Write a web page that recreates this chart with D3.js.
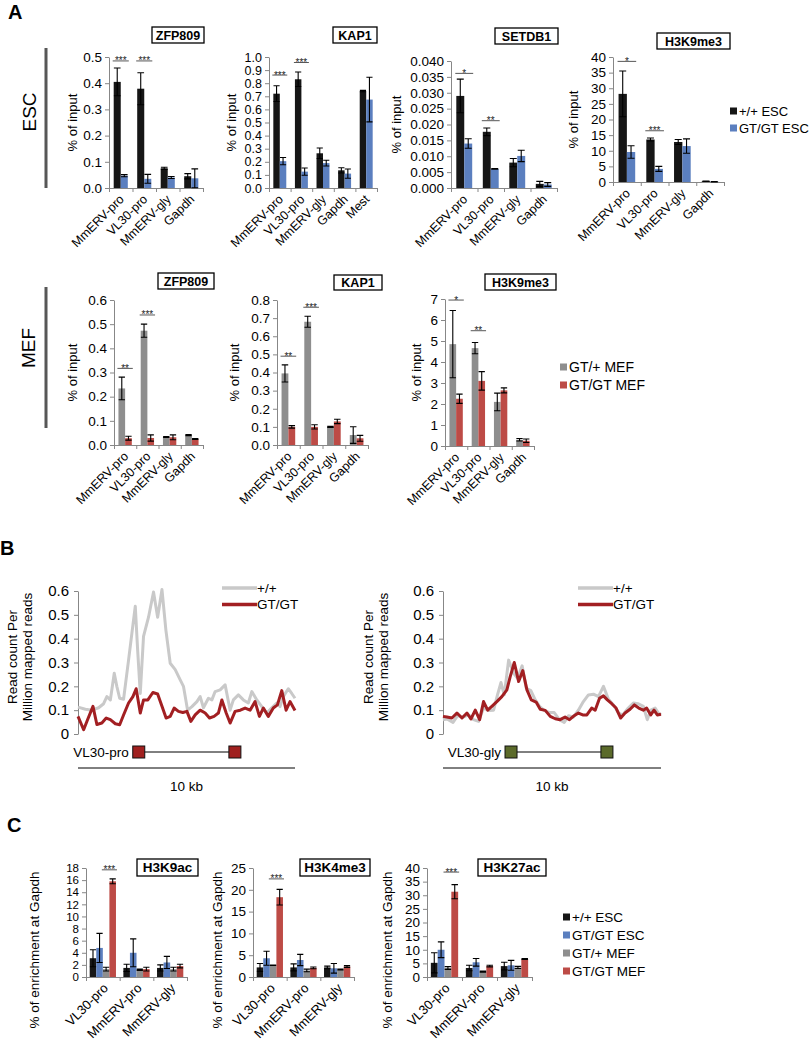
<!DOCTYPE html>
<html><head><meta charset="utf-8">
<script src="https://cdn.jsdelivr.net/npm/d3@7"></script>
<style>
body{margin:0;background:#fff;}
svg{display:block;}
</style></head><body>
<svg id="fig" width="810" height="1050"></svg>
<script>
// ================= DATA =================
const catsEsc = ["MmERV-pro","VL30-pro","MmERV-gly","Gapdh"];
const catsEscKap = ["MmERV-pro","VL30-pro","MmERV-gly","Gapdh","Mest"];
const catsMef = ["MmERV-pro","VL30-pro","MmERV-gly","Gapdh"];
const catsC = ["VL30-pro","MmERV-pro","MmERV-gly"];
const seriesEsc = ["+/+ ESC","GT/GT ESC"];
const seriesMef = ["GT/+ MEF","GT/GT MEF"];
const seriesC = ["+/+ ESC","GT/GT ESC","GT/+ MEF","GT/GT MEF"];

// A – ESC ZFP809
const zfpEscWt = [0.405,0.379,0.075,0.045];
const zfpEscWtErr = [0.053,0.061,0.004,0.010];
const zfpEscGt = [0.047,0.035,0.040,0.037];
const zfpEscGtErr = [0.004,0.017,0.004,0.036];
const zfpEscSig = [["MmERV-pro","***",0.485],["VL30-pro","***",0.485]];
const zfpEscTicks = [0,0.1,0.2,0.3,0.4,0.5];
// A – ESC KAP1
const kapEscWt = [0.72,0.83,0.265,0.135,0.74];
const kapEscWtErr = [0.06,0.055,0.04,0.02,0.005];
const kapEscGt = [0.205,0.125,0.19,0.11,0.675];
const kapEscGtErr = [0.028,0.028,0.022,0.035,0.17];
const kapEscSig = [["MmERV-pro","***",0.862],["VL30-pro","***",0.958]];
const kapEscTicks = [0,0.1,0.2,0.3,0.4,0.5,0.6,0.7,0.8,0.9,1.0];
// A – ESC SETDB1
const setEscWt = [0.0290,0.0177,0.0080,0.0013];
const setEscWtErr = [0.0053,0.0012,0.0013,0.0008];
const setEscGt = [0.0140,0.0060,0.0101,0.0011];
const setEscGtErr = [0.0015,0.0001,0.0018,0.0006];
const setEscSig = [["MmERV-pro","*",0.0361],["VL30-pro","**",0.0212]];
const setEscTicks = [0,0.005,0.010,0.015,0.020,0.025,0.030,0.035,0.040];
// A – ESC H3K9me3
const k9EscWt = [28.2,13.6,12.8,0.25];
const k9EscWtErr = [7.3,0.5,0.8,0.05];
const k9EscGt = [9.6,4.2,11.5,0.1];
const k9EscGtErr = [2.0,0.8,2.3,0.05];
const k9EscSig = [["MmERV-pro","*",38.6],["VL30-pro","***",16.4]];
const k9EscTicks = [0,5,10,15,20,25,30,35,40];
// A – MEF ZFP809
const zfpMefHet = [0.234,0.473,0.033,0.041];
const zfpMefHetErr = [0.047,0.027,0.002,0.002];
const zfpMefGt = [0.028,0.029,0.032,0.025];
const zfpMefGtErr = [0.008,0.013,0.010,0.002];
const zfpMefSig = [["MmERV-pro","**",0.317],["VL30-pro","***",0.538]];
const zfpMefTicks = [0,0.1,0.2,0.3,0.4,0.5,0.6];
// A – MEF KAP1
const kapMefHet = [0.395,0.68,0.10,0.055];
const kapMefHetErr = [0.047,0.03,0.003,0.046];
const kapMefGt = [0.10,0.10,0.13,0.037];
const kapMefGtErr = [0.007,0.012,0.012,0.016];
const kapMefSig = [["MmERV-pro","**",0.49],["VL30-pro","***",0.76]];
const kapMefTicks = [0,0.1,0.2,0.3,0.4,0.5,0.6,0.7,0.8];
// A – MEF H3K9me3
const k9MefHet = [4.85,4.66,2.1,0.3];
const k9MefHetErr = [1.6,0.27,0.42,0.06];
const k9MefGt = [2.25,3.1,2.65,0.25];
const k9MefGtErr = [0.22,0.44,0.12,0.08];
const k9MefSig = [["MmERV-pro","*",6.95],["VL30-pro","**",5.49]];
const k9MefTicks = [0,1,2,3,4,5,6,7];

// B – read density profiles (position in kb, reads per million)
const proWtPos = [0,0.34,0.64,0.95,1.18,1.33,1.49,1.67,1.79,1.92,2.10,2.33,2.48,2.64,2.75,2.87,3.02,3.25,3.48,3.67,3.87,4.05,4.25,4.48,4.71,4.86,5.05,5.25,5.48,5.63,5.78,6.01,6.17,6.32,6.55,6.78,7.01,7.16,7.39,7.62,7.85,8.01,8.24,8.47,8.70,8.93,9.16,9.31,9.46,9.69,9.85,10];
const proWtVal = [0.113,0.104,0.10,0.11,0.127,0.157,0.143,0.255,0.2,0.15,0.146,0.31,0.42,0.536,0.35,0.17,0.41,0.49,0.596,0.49,0.606,0.436,0.297,0.27,0.227,0.2,0.10,0.115,0.136,0.157,0.11,0.15,0.143,0.178,0.185,0.206,0.10,0.143,0.164,0.143,0.13,0.178,0.143,0.115,0.088,0.11,0.13,0.115,0.157,0.19,0.17,0.15];
const proGtPos = [0,0.26,0.44,0.69,0.87,1.10,1.30,1.49,1.72,1.92,2.10,2.33,2.53,2.68,2.87,3.02,3.22,3.45,3.67,3.87,4.06,4.25,4.43,4.63,4.83,5.02,5.20,5.40,5.63,5.86,6.06,6.27,6.47,6.63,6.83,7.01,7.24,7.48,7.70,7.93,8.16,8.36,8.54,8.77,9.00,9.19,9.39,9.59,9.77,10];
const proGtVal = [0.074,0.018,0.06,0.116,0.04,0.046,0.067,0.06,0.043,0.039,0.08,0.13,0.157,0.19,0.088,0.143,0.143,0.174,0.168,0.116,0.067,0.074,0.109,0.095,0.09,0.095,0.053,0.08,0.10,0.088,0.067,0.074,0.088,0.143,0.088,0.046,0.095,0.10,0.109,0.10,0.136,0.074,0.109,0.074,0.109,0.122,0.182,0.10,0.136,0.099];
const glyWtPos = [0,0.18,0.46,0.67,0.92,1.18,1.40,1.63,1.86,2.09,2.32,2.50,2.66,2.81,3.01,3.24,3.42,3.63,3.82,4.03,4.23,4.43,4.64,4.89,5.10,5.34,5.56,5.76,5.98,6.21,6.44,6.67,6.90,7.13,7.36,7.59,7.82,8.05,8.24,8.50,8.73,8.96,9.19,9.37,9.53,9.73,9.88,10];
const glyWtVal = [0.06,0.063,0.049,0.077,0.071,0.08,0.06,0.053,0.109,0.099,0.10,0.164,0.216,0.164,0.31,0.255,0.234,0.286,0.192,0.182,0.143,0.116,0.099,0.09,0.09,0.06,0.049,0.077,0.071,0.10,0.136,0.164,0.167,0.157,0.20,0.146,0.122,0.088,0.08,0.109,0.13,0.127,0.116,0.06,0.10,0.109,0.088,0.08];
const glyGtPos = [0,0.18,0.41,0.64,0.87,1.10,1.28,1.48,1.68,1.86,2.05,2.24,2.47,2.70,2.93,3.08,3.27,3.47,3.66,3.85,4.05,4.27,4.46,4.69,4.92,5.15,5.37,5.60,5.80,5.98,6.21,6.41,6.60,6.82,6.98,7.18,7.36,7.54,7.74,7.94,8.15,8.35,8.58,8.78,8.98,9.19,9.34,9.53,9.68,9.83,10];
const glyGtVal = [0.074,0.071,0.067,0.088,0.067,0.088,0.063,0.10,0.06,0.136,0.10,0.116,0.136,0.157,0.185,0.24,0.30,0.22,0.266,0.185,0.143,0.134,0.104,0.099,0.074,0.064,0.06,0.071,0.06,0.074,0.088,0.08,0.08,0.109,0.10,0.15,0.16,0.143,0.127,0.109,0.067,0.088,0.104,0.122,0.109,0.10,0.109,0.08,0.10,0.08,0.083];
const profileSeries = ["+/+","GT/GT"];
const profileTicks = [0,0.1,0.2,0.3,0.4,0.5,0.6];
const proLtrPos = [2.8,7.23];
const glyLtrPos = [3.12,7.52];

// C – enrichment at Gapdh
const k9acWtEsc = [3.1,1.5,1.5],   k9acWtEscErr = [1.4,0.6,0.5];
const k9acGtEsc = [4.8,4.0,2.4],   k9acGtEscErr = [2.4,2.3,1.0];
const k9acHetMef = [1.3,1.2,1.3],  k9acHetMefErr = [0.3,0.1,0.3];
const k9acGtMef = [15.8,1.3,1.8],  k9acGtMefErr = [0.4,0.3,0.3];
const k9acSig = [["VL30-pro","***",17.7]];
const k9acTicks = [0,2,4,6,8,10,12,14,16,18];
const k4WtEsc = [2.2,2.2,2.2],     k4WtEscErr = [0.9,0.8,0.3];
const k4GtEsc = [4.3,3.9,2.0],     k4GtEscErr = [1.6,1.3,1.1];
const k4HetMef = [2.7,1.5,1.7],    k4HetMefErr = [0.05,0.3,0.1];
const k4GtMef = [18.3,2.1,2.4],    k4GtMefErr = [1.8,0.2,0.2];
const k4Sig = [["VL30-pro","***",22.5]];
const k4Ticks = [0,5,10,15,20,25];
const k27WtEsc = [5.2,3.3,4.0],    k27WtEscErr = [3.7,1.0,1.4];
const k27GtEsc = [10.0,5.4,4.3],   k27GtEscErr = [2.9,1.4,1.8];
const k27HetMef = [3.3,2.0,3.5],   k27HetMefErr = [0.5,0.2,0.4];
const k27GtMef = [31.3,4.0,6.6],   k27GtMefErr = [2.6,0.3,0.2];
const k27Sig = [["VL30-pro","***",38.5]];
const k27Ticks = [0,5,10,15,20,25,30,35,40];

// ================= STYLE =================
const FONT = '"Liberation Sans", Arial, Helvetica, sans-serif';
const AX = "#878787";
const C_BLACK = "#161616", C_BLUE = "#5b7fbf", C_GRAY = "#8e8e8e", C_RED = "#bd4b46";
const L_GRAY = "#c9c9c9", L_RED = "#a21f22";

const svg = d3.select("#fig").attr("font-family", FONT);
svg.append("rect").attr("width",810).attr("height",1050).attr("fill","#fff");

function styleAxis(sel, fs){
  sel.attr("font-family", FONT);
  sel.select(".domain").attr("stroke", AX);
  sel.selectAll(".tick line").attr("stroke", AX);
  sel.selectAll(".tick text").attr("fill","#000").attr("font-size", fs || 13);
}

function barChart(c){
  const g = svg.append("g");
  const x = d3.scaleBand().domain(c.cats).range([c.x0, c.x1]);
  const y = d3.scaleLinear().domain([0, c.max]).range([c.yBot, c.yTop]);
  const n = c.series.length;
  const bw = x.bandwidth() * c.barFrac;
  const off = (x.bandwidth() - bw*n)/2 + (c.shift||0);
  const bx = (cat,i) => x(cat) + off + i*bw;

  c.series.forEach((s,i)=>{
    const rows = c.cats.map((cat,j)=>({cat, v:s.vals[j]}));
    g.append("g").selectAll("rect").data(rows).join("rect")
      .attr("x", d=>bx(d.cat,i)).attr("y", d=>y(d.v))
      .attr("width", bw).attr("height", d=>y(0)-y(d.v))
      .attr("fill", s.color);
  });

  const ya = g.append("g").attr("transform",`translate(${c.x0},0)`)
    .call(d3.axisLeft(y).tickValues(c.ticks).tickFormat(c.fmt).tickSize(4).tickSizeOuter(0).tickPadding(3));
  styleAxis(ya, c.tickFs);

  const xb = d3.scaleLinear().domain([0, c.cats.length]).range([c.x0, c.x1]);
  const xa = g.append("g").attr("transform",`translate(0,${c.yBot})`)
    .call(d3.axisBottom(xb).tickValues(d3.range(c.cats.length+1)).tickFormat(()=>"").tickSize(4).tickSizeOuter(0));
  styleAxis(xa);

  const cw = Math.min(bw*0.95, 7);
  c.series.forEach((s,i)=>{
    c.cats.forEach((cat,j)=>{
      const cx = bx(cat,i)+bw/2, v = s.vals[j], e = s.errs[j];
      const yt = y(v+e), yb = y(Math.max(0, v-e));
      g.append("path")
        .attr("d",`M${cx},${yt}V${yb}M${cx-cw/2},${yt}H${cx+cw/2}M${cx-cw/2},${yb}H${cx+cw/2}`)
        .attr("stroke","#000").attr("stroke-width",1.1).attr("fill","none");
    });
  });

  c.sig.forEach(([cat, stars, lvl])=>{
    const xs = bx(cat, c.sigFrom) - 1, xe = bx(cat, c.sigTo) + bw + 1, yy = y(lvl);
    g.append("line").attr("x1",xs).attr("x2",xe).attr("y1",yy).attr("y2",yy)
      .attr("stroke","#444").attr("stroke-width",0.9);
    g.append("text").attr("x",(xs+xe)/2).attr("y",yy+3.5).attr("text-anchor","middle")
      .attr("font-size",10).attr("fill","#222").text(stars);
  });

  c.cats.forEach(cat=>{
    g.append("text")
      .attr("transform",`translate(${x(cat)+x.bandwidth()/2+c.ldx},${c.yBot+c.ldy}) rotate(-45)`)
      .attr("text-anchor","end").attr("font-size",c.xFs).attr("fill","#000").text(cat);
  });

  g.append("text")
    .attr("transform",`translate(${c.ytx},${c.yty || (c.yTop+c.yBot)/2}) rotate(-90)`)
    .attr("text-anchor","middle").attr("dy","0.35em").attr("font-size",c.ytFs).attr("fill","#000").text(c.ytitle);

  const [bxx, byy, bww, bhh] = c.box;
  g.append("rect").attr("x",bxx).attr("y",byy).attr("width",bww).attr("height",bhh)
    .attr("fill","#fff").attr("stroke","#000").attr("stroke-width",1.3);
  g.append("text").attr("x",bxx+bww/2).attr("y",byy+bhh/2).attr("dy","0.36em")
    .attr("text-anchor","middle").attr("font-weight","bold").attr("font-size",c.titleFs).text(c.title);
}

function legend(x, y0, dy, names, colors, fs){
  const g = svg.append("g");
  names.forEach((nm,i)=>{
    const yy = y0 + i*dy;
    g.append("rect").attr("x",x).attr("y",yy-3.5).attr("width",7).attr("height",7).attr("fill",colors[i]);
    g.append("text").attr("x",x+9).attr("y",yy).attr("dy","0.36em").attr("font-size",fs).text(nm);
  });
}

function sideLabel(txt, cx, cy, y0, y1){
  svg.append("text").attr("transform",`translate(${cx},${cy}) rotate(-90)`).attr("text-anchor","middle")
    .attr("dy","0.36em").attr("font-size",19).text(txt);
  svg.append("rect").attr("x",44.5).attr("y",y0).attr("width",3).attr("height",y1-y0).attr("fill","#575757");
}

function panelLetter(t, x, y){
  svg.append("text").attr("x",x).attr("y",y).attr("font-weight","bold").attr("font-size",20).text(t);
}

// ================= PANEL A =================
panelLetter("A", 8, 19);
sideLabel("ESC", 29, 112, 48, 188);
sideLabel("MEF", 28, 348, 287, 428);

const f1 = d3.format(".1f"), f3 = d3.format(".3f"), f0 = d3.format("d");
const escCols = [C_BLACK, C_BLUE], mefCols = [C_GRAY, C_RED], cCols = [C_BLACK, C_BLUE, C_GRAY, C_RED];
const common = {barFrac:0.3, sigFrom:0, sigTo:1, ldx:4, ldy:12, xFs:12.5, tickFs:13.5, ytFs:13, ytitle:"% of input", titleFs:12.5};

barChart({...common, cats:catsEsc, x0:109, x1:203, yTop:57, yBot:188, max:0.5, ticks:zfpEscTicks, fmt:f1,
  series:[{vals:zfpEscWt, errs:zfpEscWtErr, color:escCols[0]},{vals:zfpEscGt, errs:zfpEscGtErr, color:escCols[1]}],
  sig:zfpEscSig, ytx:72, title:"ZFP809", box:[152,27,52,16]});
barChart({...common, tickFs:12.5, cats:catsEscKap, x0:269, x1:377, yTop:57, yBot:188, max:1.0, ticks:kapEscTicks, fmt:f1,
  series:[{vals:kapEscWt, errs:kapEscWtErr, color:escCols[0]},{vals:kapEscGt, errs:kapEscGtErr, color:escCols[1]}],
  sig:kapEscSig, ytx:231, title:"KAP1", box:[333,27,44,16]});
barChart({...common, cats:catsEsc, x0:451, x1:557, yTop:61, yBot:188, max:0.04, ticks:setEscTicks, fmt:f3,
  series:[{vals:setEscWt, errs:setEscWtErr, color:escCols[0]},{vals:setEscGt, errs:setEscGtErr, color:escCols[1]}],
  sig:setEscSig, ytx:396, title:"SETDB1", box:[495,28,63,16]});
barChart({...common, cats:catsEsc, x0:613, x1:724, yTop:57, yBot:182, max:40, ticks:k9EscTicks, fmt:f0,
  series:[{vals:k9EscWt, errs:k9EscWtErr, color:escCols[0]},{vals:k9EscGt, errs:k9EscGtErr, color:escCols[1]}],
  sig:k9EscSig, ytx:573, title:"H3K9me3", box:[657,33,73,16]});
legend(730, 111, 17, seriesEsc, escCols, 13);

barChart({...common, cats:catsMef, x0:114, x1:203, yTop:300, yBot:445, max:0.6, ticks:zfpMefTicks, fmt:f1,
  series:[{vals:zfpMefHet, errs:zfpMefHetErr, color:mefCols[0]},{vals:zfpMefGt, errs:zfpMefGtErr, color:mefCols[1]}],
  sig:zfpMefSig, ytx:72, title:"ZFP809", box:[158,273,56,16]});
barChart({...common, cats:catsMef, x0:277, x1:368, yTop:300, yBot:445, max:0.8, ticks:kapMefTicks, fmt:f1,
  series:[{vals:kapMefHet, errs:kapMefHetErr, color:mefCols[0]},{vals:kapMefGt, errs:kapMefGtErr, color:mefCols[1]}],
  sig:kapMefSig, ytx:234, title:"KAP1", box:[334,275,48,15]});
barChart({...common, cats:catsMef, x0:445, x1:534, yTop:299, yBot:446, max:7, ticks:k9MefTicks, fmt:f0,
  series:[{vals:k9MefHet, errs:k9MefHetErr, color:mefCols[0]},{vals:k9MefGt, errs:k9MefGtErr, color:mefCols[1]}],
  sig:k9MefSig, ytx:416, title:"H3K9me3", box:[485,274,71,16]});
legend(560, 367, 18, seriesMef, mefCols, 14);

// ================= PANEL B =================
panelLetter("B", 0, 555);

function profile(c){
  const g = svg.append("g");
  const x = d3.scaleLinear().domain([0,10]).range([c.x0, c.x1]);
  const y = d3.scaleLinear().domain([0,0.6]).range([c.yBot, c.yTop]);
  const ya = g.append("g").attr("transform",`translate(${c.x0},0)`)
    .call(d3.axisLeft(y).tickValues(profileTicks).tickFormat(d=>d===0?"0":d3.format(".1f")(d)).tickSize(4).tickSizeOuter(0).tickPadding(5));
  styleAxis(ya, 15);
  const line = d3.line().x(d=>x(d[0])).y(d=>y(d[1]));
  g.append("path").datum(d3.zip(c.wtPos, c.wtVal)).attr("d", line)
    .attr("fill","none").attr("stroke",L_GRAY).attr("stroke-width",3).attr("stroke-linejoin","round");
  g.append("path").datum(d3.zip(c.gtPos, c.gtVal)).attr("d", line)
    .attr("fill","none").attr("stroke",L_RED).attr("stroke-width",3).attr("stroke-linejoin","round");
  // legend
  [L_GRAY, L_RED].forEach((col,i)=>{
    const yy = c.legY + i*16.5;
    g.append("line").attr("x1",c.legX).attr("x2",c.legX+35).attr("y1",yy).attr("y2",yy).attr("stroke",col).attr("stroke-width",3.5);
    g.append("text").attr("x",c.legX+35).attr("y",yy).attr("dy","0.36em").attr("font-size",13.5).text(profileSeries[i]);
  });
  // y title
  g.append("text").attr("transform",`translate(${c.ytx},${c.yty}) rotate(-90)`).attr("text-anchor","middle").attr("font-size",13.5)
    .selectAll("tspan").data(["Read count Per","Million mapped reads"]).join("tspan")
    .attr("x",0).attr("dy",(d,i)=>i===0?"0":"1.1em").text(d=>d);
  // gene model
  const gy = 752;
  g.append("line").attr("x1",x(c.ltr[0])).attr("x2",x(c.ltr[1])).attr("y1",gy).attr("y2",gy).attr("stroke","#000").attr("stroke-width",1);
  c.ltr.forEach(p=>{
    g.append("rect").attr("x",x(p)-6).attr("y",gy-6).attr("width",12).attr("height",12)
      .attr("fill",c.ltrCol).attr("stroke","#111").attr("stroke-width",1);
  });
  g.append("text").attr("x",x(c.ltr[0])-10).attr("y",gy).attr("dy","0.36em").attr("text-anchor","end").attr("font-size",13.5).text(c.gene);
  // scale bar
  g.append("line").attr("x1",x(0)).attr("x2",x(10)).attr("y1",768).attr("y2",768).attr("stroke","#000").attr("stroke-width",1);
  g.append("text").attr("x",x(5)).attr("y",791).attr("text-anchor","middle").attr("font-size",13.5).text("10 kb");
}
profile({x0:78, x1:295, yTop:591, yBot:734, wtPos:proWtPos, wtVal:proWtVal, gtPos:proGtPos, gtVal:proGtVal,
  legX:222, legY:588, ytx:17, yty:657, ltr:proLtrPos, ltrCol:"#a0201f", gene:"VL30-pro"});
profile({x0:443, x1:661, yTop:591, yBot:734, wtPos:glyWtPos, wtVal:glyWtVal, gtPos:glyGtPos, gtVal:glyGtVal,
  legX:578, legY:588, ytx:373, yty:657, ltr:glyLtrPos, ltrCol:"#5b6a2a", gene:"VL30-gly"});

// ================= PANEL C =================
panelLetter("C", 7, 832);
const commonC = {barFrac:0.195, sigFrom:2, sigTo:3, ldx:6, ldy:12, xFs:13, tickFs:13.5, ytFs:13.5,
  ytitle:"% of enrichment at Gapdh", titleFs:13.5, yty:950, cats:catsC, yTop:868, yBot:977};
barChart({...commonC, tickFs:11.5, x0:86, x1:187, max:18, ticks:k9acTicks, fmt:f0,
  series:[{vals:k9acWtEsc,errs:k9acWtEscErr,color:cCols[0]},{vals:k9acGtEsc,errs:k9acGtEscErr,color:cCols[1]},
          {vals:k9acHetMef,errs:k9acHetMefErr,color:cCols[2]},{vals:k9acGtMef,errs:k9acGtMefErr,color:cCols[3]}],
  sig:k9acSig, ytx:34, title:"H3K9ac", box:[137,859,61,17]});
barChart({...commonC, x0:253, x1:354, max:25, ticks:k4Ticks, fmt:f0,
  series:[{vals:k4WtEsc,errs:k4WtEscErr,color:cCols[0]},{vals:k4GtEsc,errs:k4GtEscErr,color:cCols[1]},
          {vals:k4HetMef,errs:k4HetMefErr,color:cCols[2]},{vals:k4GtMef,errs:k4GtMefErr,color:cCols[3]}],
  sig:k4Sig, ytx:217, title:"H3K4me3", box:[300,859,70,17]});
barChart({...commonC, x0:427, x1:532, max:40, ticks:k27Ticks, fmt:f0,
  series:[{vals:k27WtEsc,errs:k27WtEscErr,color:cCols[0]},{vals:k27GtEsc,errs:k27GtEscErr,color:cCols[1]},
          {vals:k27HetMef,errs:k27HetMefErr,color:cCols[2]},{vals:k27GtMef,errs:k27GtMefErr,color:cCols[3]}],
  sig:k27Sig, ytx:387, title:"H3K27ac", box:[478,859,68,17]});
legend(563, 917, 18, seriesC, cCols, 13.5);
</script>
</body></html>
